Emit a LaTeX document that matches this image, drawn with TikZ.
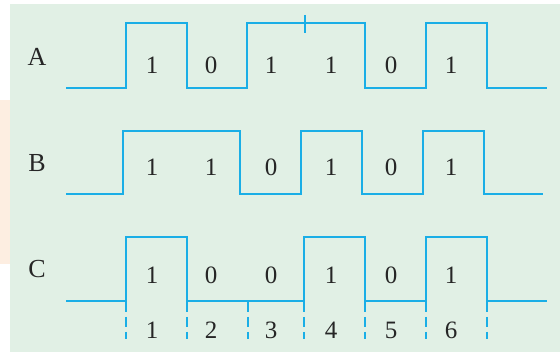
\documentclass[tikz,border=0pt]{standalone}
\usepackage{fontspec}
\setmainfont{Liberation Serif}
\definecolor{panel}{HTML}{E1F0E5}
\definecolor{peach}{HTML}{FDEEE1}
\definecolor{wave}{HTML}{1AAEE6}
\tikzset{
  signal/.style={draw=wave,line width=1.6pt,line join=miter},
  guide/.style={draw=wave,line width=1.6pt,dash pattern=on 10pt off 5pt},
  bit/.style={font=\fontsize{25}{30}\selectfont,text=black!85,inner sep=0pt},
  signame/.style={font=\fontsize{26}{30}\selectfont,text=black!85,inner sep=0pt}
}
\begin{document}
\begin{tikzpicture}[x=1pt,y=-1pt]
\useasboundingbox (0,0) rectangle (560,352);
\fill[white] (0,0) rectangle (560,352);
\fill[panel] (10,4) rectangle (560,352);
\fill[peach] (0,100) rectangle (10,264);
% waveform A
\draw[signal] (66,88) -- (126,88) -- (126,23) -- (187,23) -- (187,88) -- (247,88) -- (247,23)
  -- (365,23) -- (365,88) -- (426,88) -- (426,23) -- (487,23) -- (487,88) -- (547,88);
\draw[signal] (305,15) -- (305,33);
% waveform B
\draw[signal] (66,194) -- (123,194) -- (123,131) -- (240,131) -- (240,194) -- (301,194) -- (301,131)
  -- (362,131) -- (362,194) -- (423,194) -- (423,131) -- (484,131) -- (484,194) -- (543,194);
% waveform C
\draw[signal] (66,301) -- (126,301) -- (126,237) -- (187,237) -- (187,301) -- (304,301) -- (304,237)
  -- (365,237) -- (365,301) -- (426,301) -- (426,237) -- (487,237) -- (487,301) -- (547,301);
\foreach \tx in {126,187,248,304,365,426,487}
  \draw[guide] (\tx,302) -- (\tx,339);
% labels
\node[signame] (nameA) at (37,57) {A};
\node[signame] (nameB) at (37,163) {B};
\node[signame] (nameC) at (37,269) {C};
\foreach \bx/\ba/\bb/\bc [count=\i] in {152/1/1/1,211/0/1/0,271/1/0/0,331/1/1/1,391/0/0/0,451/1/1/1} {
  \node[bit] (a\i) at (\bx,65) {\ba};
  \node[bit] (b\i) at (\bx,167) {\bb};
  \node[bit] (c\i) at (\bx,275) {\bc};
  \node[bit] (n\i) at (\bx,330) {\i};
}
\end{tikzpicture}
\end{document}
